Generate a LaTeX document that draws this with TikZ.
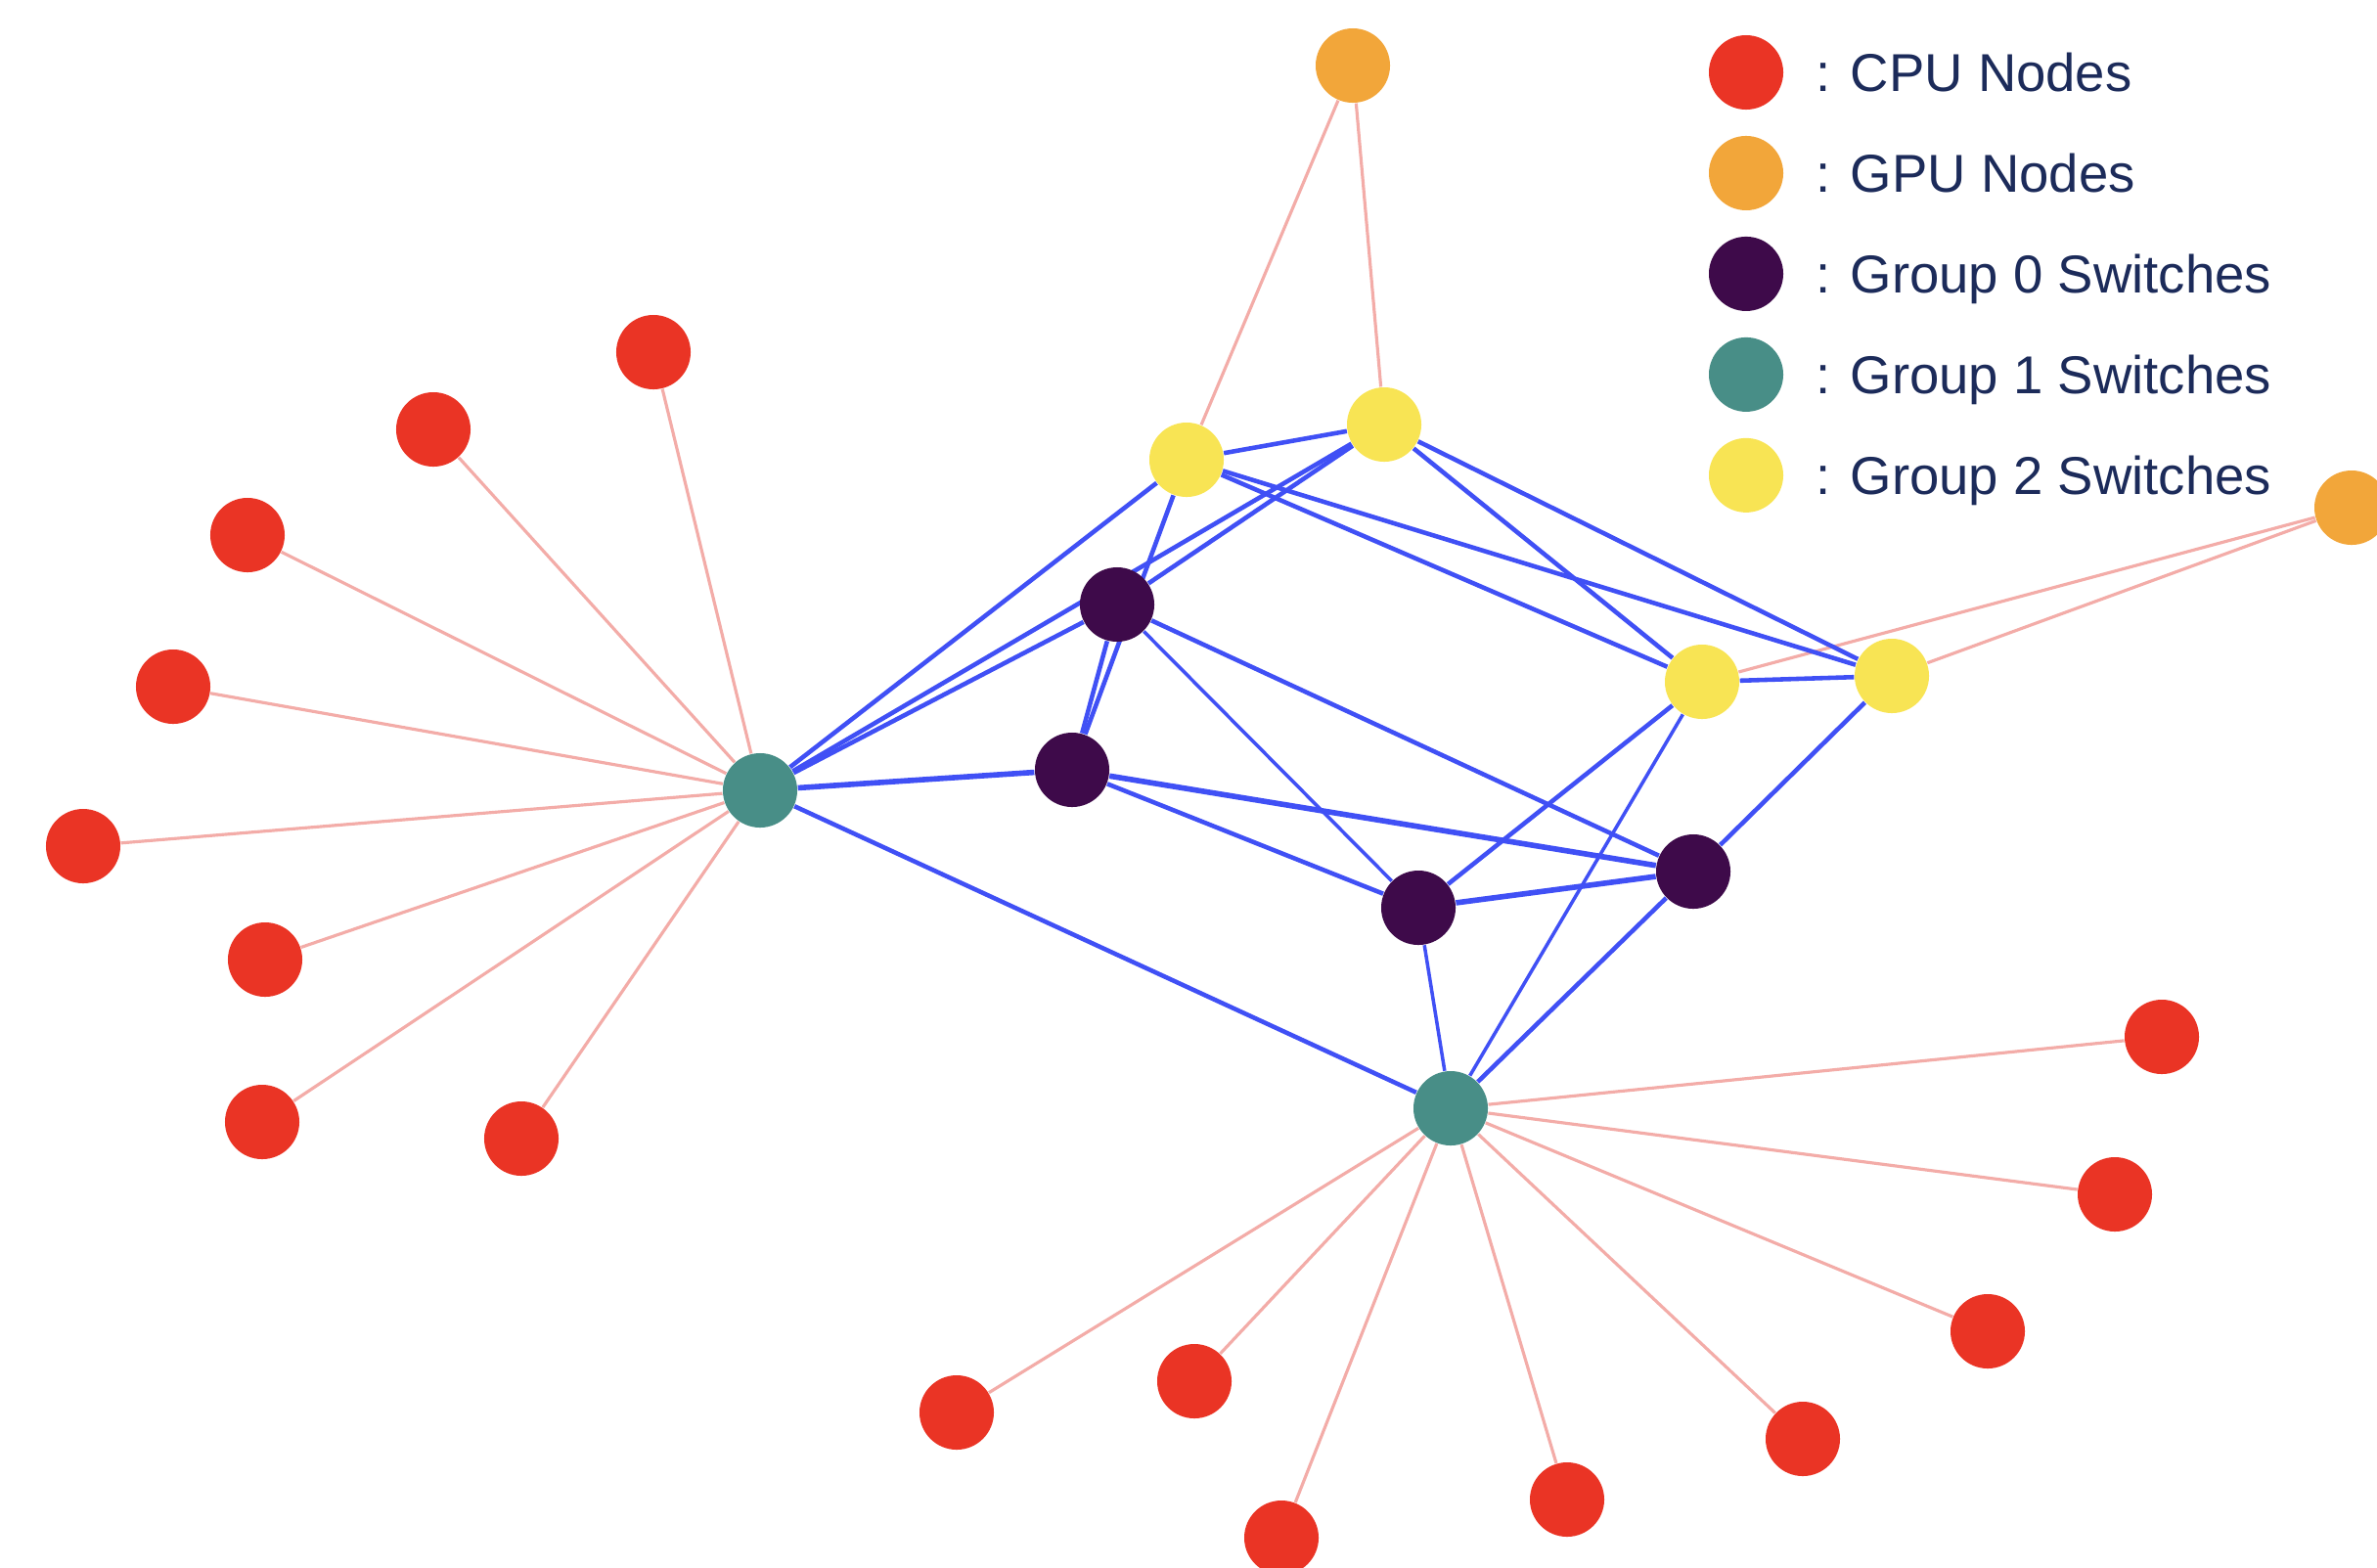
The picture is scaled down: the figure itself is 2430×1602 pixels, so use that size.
\documentclass[tikz,border=0pt]{standalone}
\usepackage{fontspec}
\setmainfont{Liberation Sans}
\definecolor{CPUred}{RGB}{234,52,37}
\definecolor{GPUorange}{RGB}{242,166,58}
\definecolor{SWpurple}{RGB}{62,10,74}
\definecolor{SWteal}{RGB}{72,142,135}
\definecolor{SWyellow}{RGB}{248,228,84}
\definecolor{LinkBlue}{RGB}{64,80,245}
\definecolor{LinkPink}{RGB}{243,172,168}
\definecolor{LegNavy}{RGB}{28,43,90}
\usetikzlibrary{positioning, backgrounds}

\begin{document}
\begin{tikzpicture}[
    x=0.01cm, y=-0.01cm,
    dot/.style={circle, inner sep=0pt, minimum size=0.76cm},
    cpudot/.style={dot, fill=CPUred},
    gpudot/.style={dot, fill=GPUorange},
    zerodot/.style={dot, fill=SWpurple},
    onedot/.style={dot, fill=SWteal},
    twodot/.style={dot, fill=SWyellow},
    swlink/.style={LinkBlue, line width=1.3pt},
    thinlink/.style={swlink, line width=1pt},
    boldlink/.style={swlink, line width=1.6pt},
    hostlink/.style={LinkPink, line width=0.9pt},
    legtext/.style={font=\fontsize{15.5}{19}\selectfont, text=LegNavy,
                    inner sep=0pt, text depth=0pt}
  ]
    \useasboundingbox (0,0) rectangle (2430,1602);

    % switches
    \node[twodot]  (ya) at (1213,470) {};
    \node[twodot]  (yb) at (1415,434) {};
    \node[twodot]  (yc) at (1740,697) {};
    \node[twodot]  (yd) at (1934,691) {};
    \node[zerodot] (pa) at (1142,618) {};
    \node[zerodot] (pb) at (1096,787) {};
    \node[zerodot] (pc) at (1450,928) {};
    \node[zerodot] (pd) at (1731,891) {};
    \node[onedot]  (ta) at (777,808)  {};
    \node[onedot]  (tb) at (1483,1133) {};

    % gpu nodes
    \node[gpudot] (gpua) at (1383,67)  {};
    \node[gpudot] (gpub) at (2404,519) {};

    % cpu nodes
    \node[cpudot] (cpua) at (668,360)  {};
    \node[cpudot] (cpub) at (443,439)  {};
    \node[cpudot] (cpuc) at (253,547)  {};
    \node[cpudot] (cpud) at (177,702)  {};
    \node[cpudot] (cpue) at (85,865)   {};
    \node[cpudot] (cpuf) at (271,981)  {};
    \node[cpudot] (cpug) at (268,1147) {};
    \node[cpudot] (cpuh) at (533,1164) {};
    \node[cpudot] (cpui) at (2210,1060) {};
    \node[cpudot] (cpuj) at (2162,1221) {};
    \node[cpudot] (cpuk) at (2032,1361) {};
    \node[cpudot] (cpul) at (1843,1471) {};
    \node[cpudot] (cpum) at (1602,1533) {};
    \node[cpudot] (cpun) at (1310,1572) {};
    \node[cpudot] (cpuo) at (1221,1412) {};
    \node[cpudot] (cpup) at (978,1444)  {};

    % legend
    \node[cpudot] (lcpu) at (1785,74) {};
    \node[gpudot,  below=0.255cm of lcpu] (lgpu) {};
    \node[zerodot, below=0.255cm of lgpu] (lzero) {};
    \node[onedot,  below=0.255cm of lzero] (lone) {};
    \node[twodot,  below=0.255cm of lone] (ltwo) {};
    \node[legtext, right=0.32cm of lcpu]  {: CPU Nodes};
    \node[legtext, right=0.32cm of lgpu]  {: GPU Nodes};
    \node[legtext, right=0.32cm of lzero] {: Group 0 Switches};
    \node[legtext, right=0.32cm of lone]  {: Group 1 Switches};
    \node[legtext, right=0.32cm of ltwo]  {: Group 2 Switches};

    \begin{scope}[on background layer]
      % host links
      \draw[hostlink](gpua)--(ya); \draw[hostlink](gpua)--(yb);
      \draw[hostlink](gpub)--(yc); \draw[hostlink](gpub)--(yd);
      \draw[hostlink](ta)--(cpua); \draw[hostlink](ta)--(cpub);
      \draw[hostlink](ta)--(cpuc); \draw[hostlink](ta)--(cpud);
      \draw[hostlink](ta)--(cpue); \draw[hostlink](ta)--(cpuf);
      \draw[hostlink](ta)--(cpug); \draw[hostlink](ta)--(cpuh);
      \draw[hostlink](tb)--(cpui); \draw[hostlink](tb)--(cpuj);
      \draw[hostlink](tb)--(cpuk); \draw[hostlink](tb)--(cpul);
      \draw[hostlink](tb)--(cpum); \draw[hostlink](tb)--(cpun);
      \draw[hostlink](tb)--(cpuo); \draw[hostlink](tb)--(cpup);

      % switch links
      \draw[swlink](ya)--(yb); \draw[swlink](ya)--(ta);
      \draw[swlink](ya)--(pb); \draw[swlink](ya)--(yc);
      \draw[swlink](ya)--(yd);
      \draw[swlink](yb)--(pa); \draw[swlink](yb)--(ta);
      \draw[swlink](yb)--(yc); \draw[swlink](yb)--(yd);
      \draw[swlink](pa)--(ta); \draw[swlink](pa)--(pb);
      \draw[thinlink](pa)--(pc); \draw[swlink](pa)--(pd);
      \draw[boldlink](pb)--(ta); \draw[swlink](pb)--(pc);
      \draw[boldlink](pb)--(pd);
      \draw[boldlink](pc)--(pd); \draw[swlink](pc)--(yc);
      \draw[thinlink](pc)--(tb);
      \draw[swlink](pd)--(yd); \draw[swlink](pd)--(tb);
      \draw[swlink](yc)--(yd); \draw[thinlink](yc)--(tb);
      \draw[swlink](ta)--(tb);
    \end{scope}
  \end{tikzpicture}
\end{document}
